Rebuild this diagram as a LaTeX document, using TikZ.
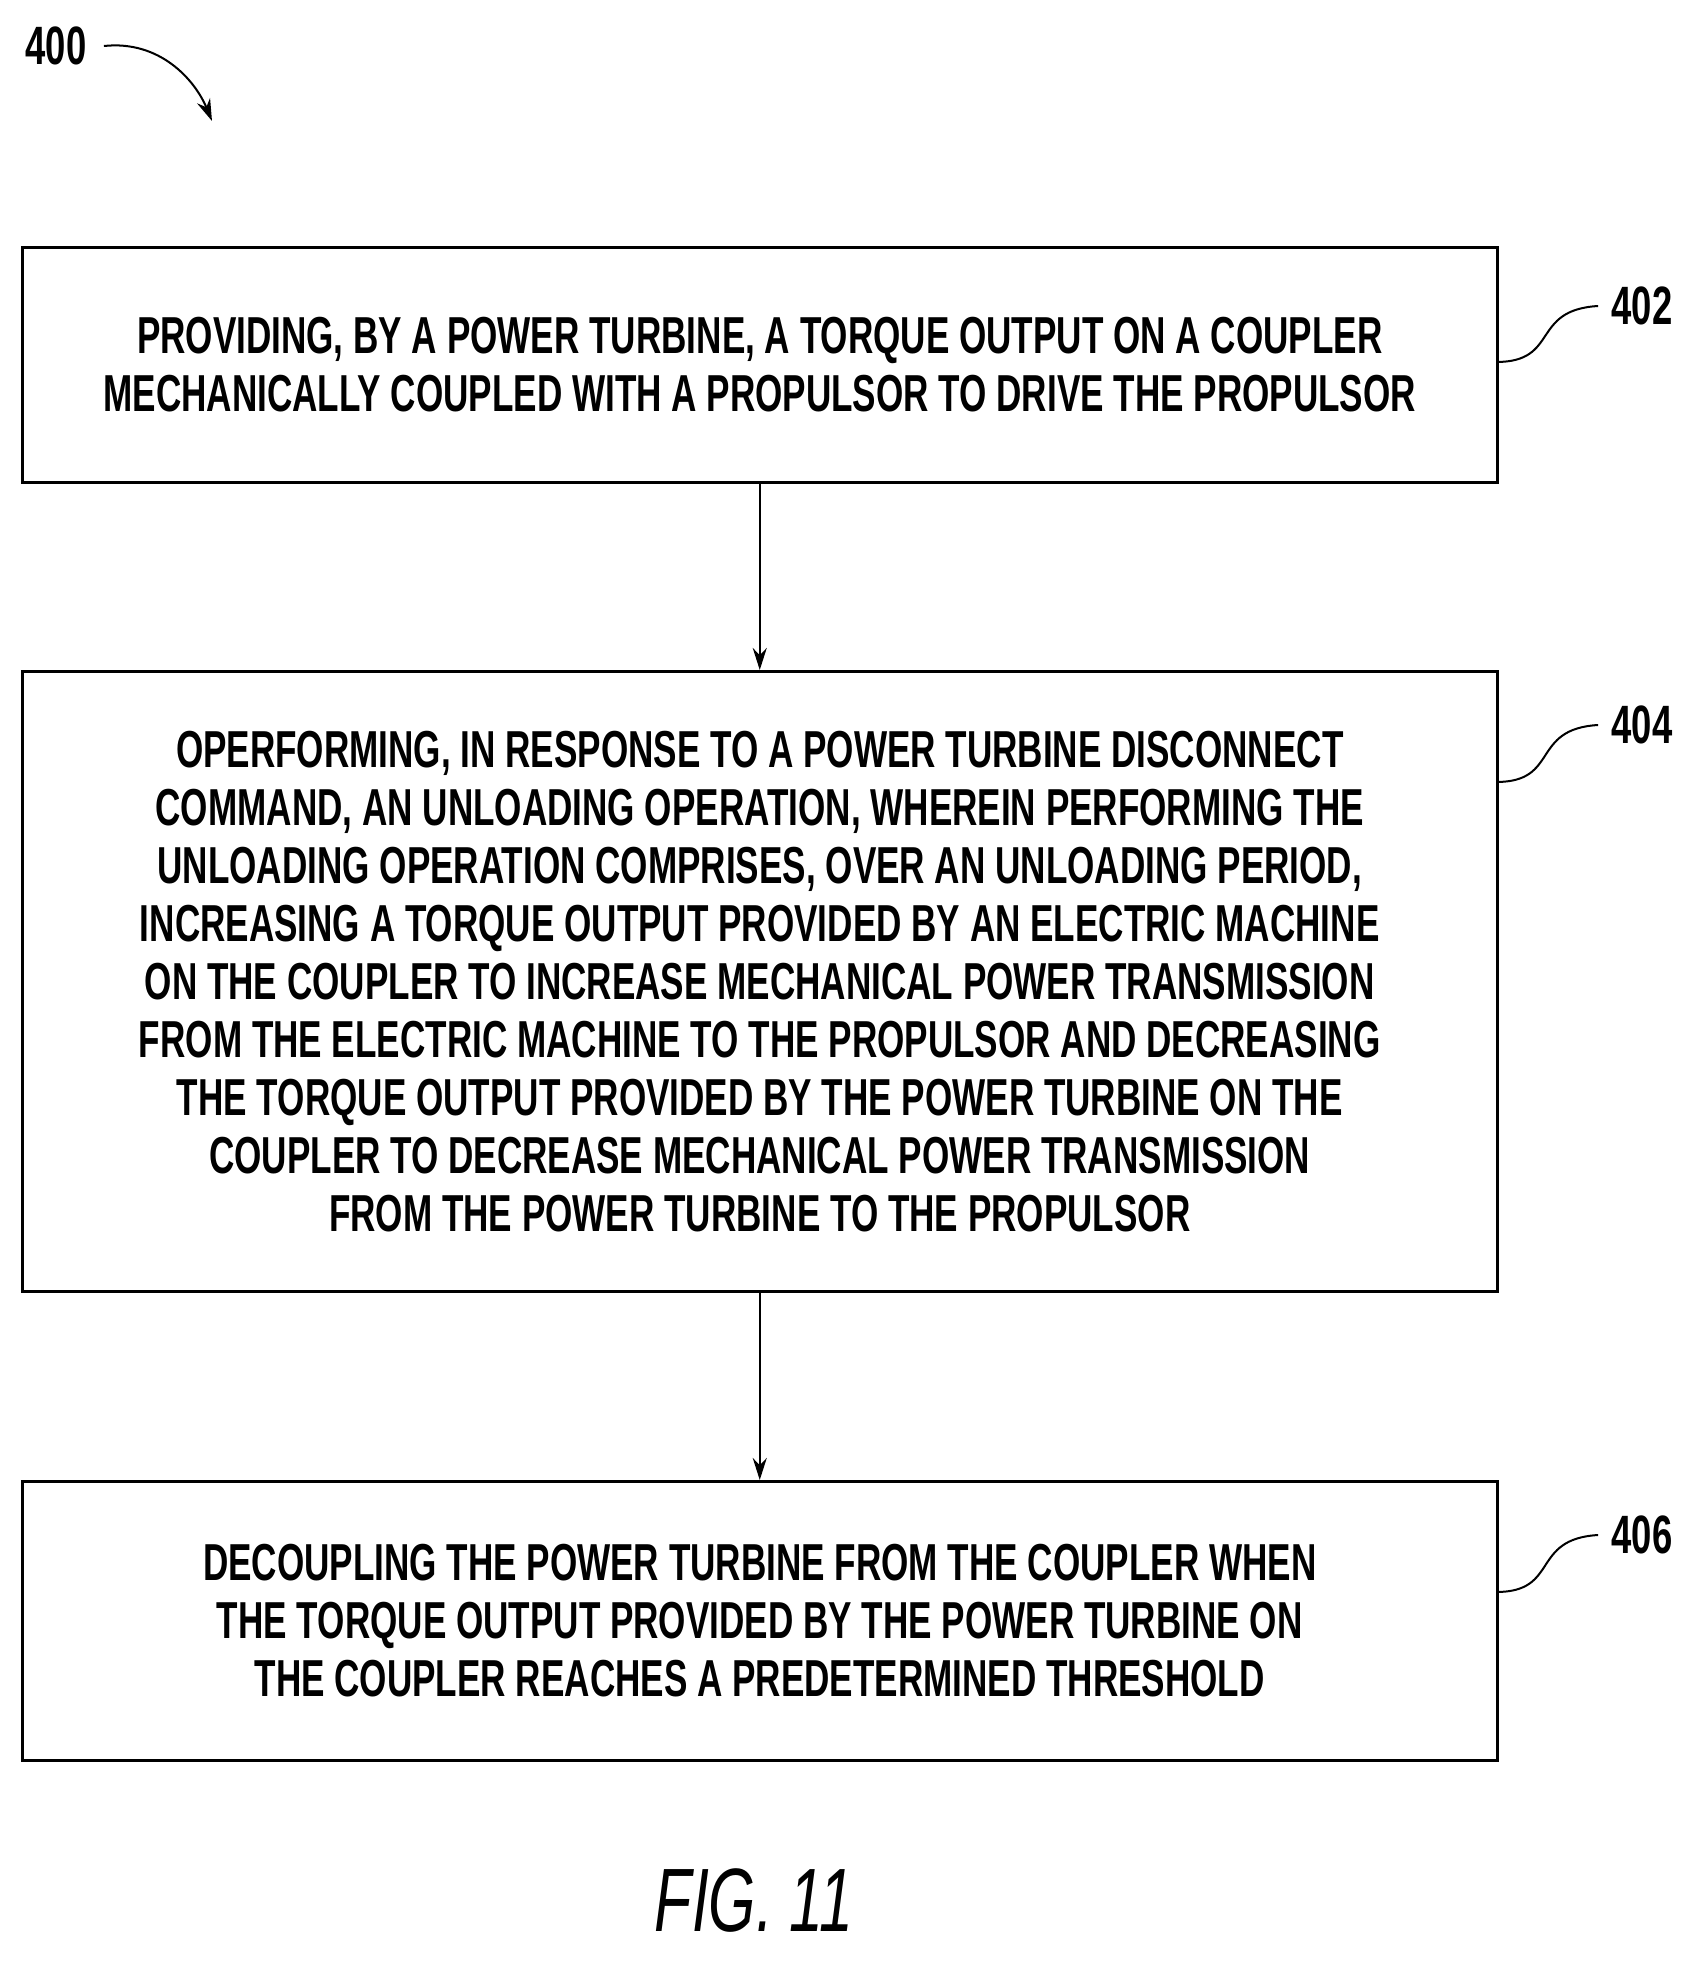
\documentclass[tikz,border=0pt]{standalone}
\usepackage{fontspec}
\setmainfont[FakeStretch=0.675]{Liberation Sans}
\usetikzlibrary{arrows.meta}
\begin{document}
\begin{tikzpicture}[x=1pt,y=-1pt,
 box/.style={draw,line width=2.5pt,minimum width=1475pt,anchor=north west,inner sep=0pt,align=center,font=\fontsize{52}{58}\selectfont\bfseries},
 lab/.style={font=\fontsize{54}{58}\selectfont\bfseries},
 arr/.style={line width=2pt,-{Stealth[length=22pt,width=14pt]}}]
\useasboundingbox (0,0) rectangle (1697,1962);
\node[box,minimum height=235pt] (b1) at (21,246) {PROVIDING, BY A POWER TURBINE, A TORQUE OUTPUT ON A COUPLER\\MECHANICALLY COUPLED WITH A PROPULSOR TO DRIVE THE PROPULSOR};
\node[box,minimum height=620pt] (b2) at (21,670) {OPERFORMING, IN RESPONSE TO A POWER TURBINE DISCONNECT\\COMMAND, AN UNLOADING OPERATION, WHEREIN PERFORMING THE\\UNLOADING OPERATION COMPRISES, OVER AN UNLOADING PERIOD,\\INCREASING A TORQUE OUTPUT PROVIDED BY AN ELECTRIC MACHINE\\ON THE COUPLER TO INCREASE MECHANICAL POWER TRANSMISSION\\FROM THE ELECTRIC MACHINE TO THE PROPULSOR AND DECREASING\\THE TORQUE OUTPUT PROVIDED BY THE POWER TURBINE ON THE\\COUPLER TO DECREASE MECHANICAL POWER TRANSMISSION\\FROM THE POWER TURBINE TO THE PROPULSOR};
\node[box,minimum height=279pt] (b3) at (21,1480) {DECOUPLING THE POWER TURBINE FROM THE COUPLER WHEN\\THE TORQUE OUTPUT PROVIDED BY THE POWER TURBINE ON\\THE COUPLER REACHES A PREDETERMINED THRESHOLD};
\draw[arr] (b1.south) -- (b2.north);
\draw[arr] (b2.south) -- (b3.north);
\node[lab] (l402) at (1642,306) {402};
\node[lab] (l404) at (1642,725) {404};
\node[lab] (l406) at (1642,1535) {406};
\draw[line width=2pt] (1496,362) .. controls (1560,362) and (1530,310) .. ([xshift=-10pt]l402.west);
\draw[line width=2pt] (1496,782) .. controls (1560,782) and (1530,729) .. ([xshift=-10pt]l404.west);
\draw[line width=2pt] (1496,1592) .. controls (1560,1592) and (1530,1539) .. ([xshift=-10pt]l406.west);
\node[lab] (l400) at (56,46) {400};
\coordinate (a400) at (212,121);
\draw[arr] ([xshift=14pt]l400.east) .. controls (160,40) and (195,80) .. (a400);
\node[font=\fontsize{90}{100}\selectfont\itshape] (fig) at (754,1900) {FIG. 11};
\end{tikzpicture}
\end{document}
